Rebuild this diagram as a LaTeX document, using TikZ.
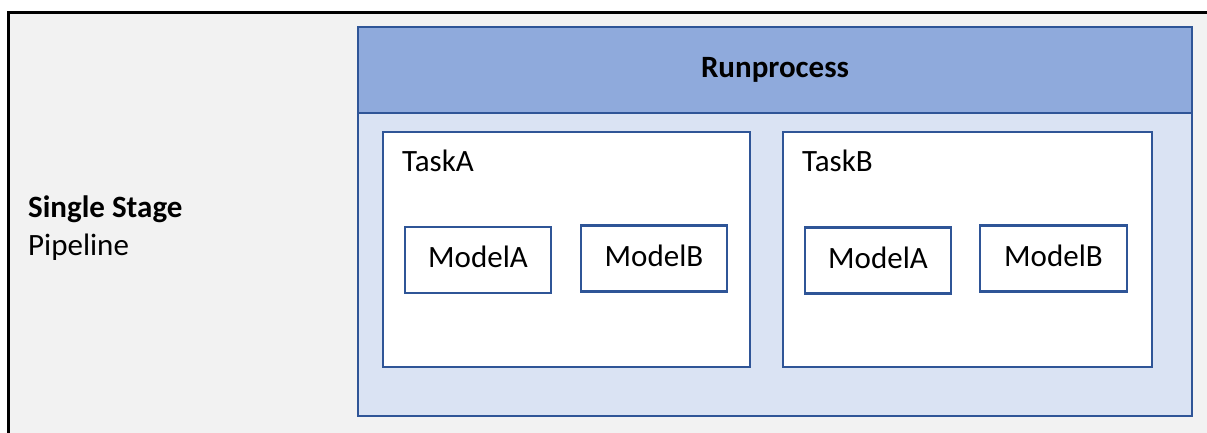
\documentclass[tikz,border=0pt]{standalone}
\usepackage{fontspec}
\setmainfont{Carlito}
\usepackage{tikz}
\usetikzlibrary{positioning}
\definecolor{RunBorder}{HTML}{2F5597}
\definecolor{RunHead}{HTML}{8FAADC}
\definecolor{RunBody}{HTML}{DAE3F3}
\definecolor{StageBg}{HTML}{F2F2F2}

\begin{document}
\begin{tikzpicture}[
  x=1pt, y=-1pt,
  txt/.style={font=\fontsize{31}{37}\selectfont},
  panel/.style={draw=RunBorder, line width=2.7pt, rectangle, outer sep=0pt,
    inner sep=0pt, anchor=north west},
  taskbox/.style={panel, fill=white, minimum width=367pt, minimum height=235pt},
  modelbox/.style={panel, fill=white, txt, text depth=6pt, minimum width=146pt,
    minimum height=66pt, anchor=center},
  tasklabel/.style={txt, inner sep=0pt}
]
  \useasboundingbox (0,0) rectangle (1207,432);
  \clip (0,0) rectangle (1207,432);
  \fill[white] (0,0) rectangle (1207,432);
  \draw[fill=StageBg, line width=3pt] (8.5,12.5) rectangle (1240,460);

  \node[txt, font=\fontsize{31}{37}\selectfont\bfseries, anchor=base west, inner sep=0pt] (stage) at (28,217) {Single Stage};
  \node[txt, anchor=base west, inner sep=0pt] (pipe) at (28,255) {Pipeline};

  \node[panel, fill=RunBody, minimum width=834pt, minimum height=389pt] (run) at (358,27) {};
  \node[panel, fill=RunHead, minimum width=834pt, minimum height=86pt,
    font=\fontsize{31}{37}\selectfont\bfseries] (runhead) at (358,27) {Runprocess};

  \node[taskbox] (taskA) at (383,132) {};
  \node[taskbox, minimum width=369pt] (taskB) at (783,132) {};
  \node[tasklabel, below right=18pt and 19pt of taskA.north west] (taskAlbl) {TaskA};
  \node[tasklabel, below right=18pt and 19pt of taskB.north west] (taskBlbl) {TaskB};

  \node[modelbox] (aModelA) at (478,260) {ModelA};
  \node[modelbox] (aModelB) at (654,258.5) {ModelB};
  \node[modelbox] (bModelA) at (878,260.5) {ModelA};
  \node[modelbox, minimum width=147pt] (bModelB) at (1053.5,258.5) {ModelB};
\end{tikzpicture}
\end{document}
